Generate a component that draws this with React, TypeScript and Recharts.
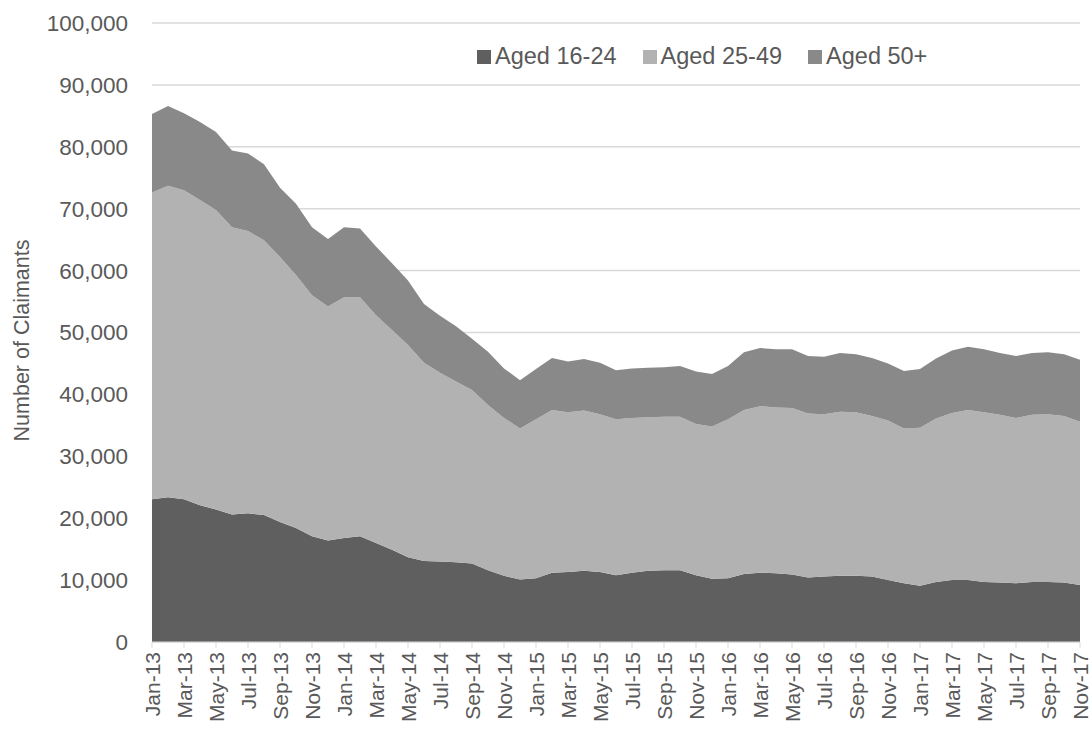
import { Area, AreaChart, CartesianGrid, XAxis, YAxis } from "recharts"

const months = [
  "Jan-13", "Feb-13", "Mar-13", "Apr-13", "May-13", "Jun-13", "Jul-13", "Aug-13", "Sep-13", "Oct-13", "Nov-13", "Dec-13",
  "Jan-14", "Feb-14", "Mar-14", "Apr-14", "May-14", "Jun-14", "Jul-14", "Aug-14", "Sep-14", "Oct-14", "Nov-14", "Dec-14",
  "Jan-15", "Feb-15", "Mar-15", "Apr-15", "May-15", "Jun-15", "Jul-15", "Aug-15", "Sep-15", "Oct-15", "Nov-15", "Dec-15",
  "Jan-16", "Feb-16", "Mar-16", "Apr-16", "May-16", "Jun-16", "Jul-16", "Aug-16", "Sep-16", "Oct-16", "Nov-16", "Dec-16",
  "Jan-17", "Feb-17", "Mar-17", "Apr-17", "May-17", "Jun-17", "Jul-17", "Aug-17", "Sep-17", "Oct-17", "Nov-17",
]

const aged16to24 = [
  23050, 23400, 23050, 22100, 21400, 20600, 20800, 20500, 19400, 18400, 17100, 16400,
  16800, 17100, 16000, 14900, 13700, 13100, 13000, 12900, 12700, 11600, 10700, 10100,
  10300, 11200, 11300, 11500, 11300, 10800, 11200, 11500, 11600, 11600, 10800, 10200,
  10300, 11000, 11200, 11100, 10900, 10400, 10600, 10700, 10700, 10600, 10000, 9500,
  9100, 9700, 10000, 10000, 9700, 9600, 9500, 9700, 9700, 9600, 9200,
]

const aged25to49 = [
  49550, 50300, 49950, 49300, 48400, 46400, 45600, 44400, 42800, 40900, 38900, 37800,
  38900, 38600, 36800, 35500, 34300, 32000, 30500, 29200, 28000, 26700, 25500, 24400,
  25700, 26300, 25800, 25900, 25500, 25200, 25000, 24800, 24800, 24800, 24400, 24600,
  25700, 26500, 26900, 26800, 26900, 26500, 26200, 26500, 26400, 25900, 25800, 25000,
  25500, 26400, 27000, 27500, 27400, 27100, 26700, 27000, 27100, 26900, 26400,
]

const aged50plus = [
  12700, 12900, 12400, 12600, 12600, 12400, 12500, 12300, 11200, 11500, 11000, 10900,
  11300, 11100, 11100, 10800, 10400, 9500, 9200, 8900, 8300, 8600, 8000, 7800,
  8100, 8400, 8200, 8300, 8300, 7900, 8000, 8000, 8000, 8200, 8500, 8500,
  8600, 9300, 9400, 9400, 9500, 9300, 9300, 9500, 9400, 9400, 9200, 9300,
  9500, 9700, 10100, 10200, 10200, 10000, 10000, 10000, 10000, 10000, 10000,
]

const yTicks = [0, 10000, 20000, 30000, 40000, 50000, 60000, 70000, 80000, 90000, 100000]

const series = [
  { key: "a1624", name: "Aged 16-24", color: "#5f5f5f" },
  { key: "a2549", name: "Aged 25-49", color: "#b2b2b2" },
  { key: "a50", name: "Aged 50+", color: "#898989" },
]

const data = months.map((m, i) => ({
  month: m,
  a1624: aged16to24[i],
  a2549: aged25to49[i],
  a50: aged50plus[i],
}))

const FONT = "'Liberation Sans', Arial, sans-serif"
const TEXT = "#595959"

const XTick = ({ x, y, payload }: any) => (
  <text
    transform={`translate(${x},${y}) rotate(-90)`}
    x={-2}
    y={0}
    textAnchor="end"
    dominantBaseline="central"
    fontSize={21}
    fill={TEXT}
    fontFamily={FONT}
  >
    {payload.value}
  </text>
)

// legend sits inside the plot area, so it is drawn as an overlay
function ChartLegend() {
  return (
    <div
      style={{
        position: "absolute",
        left: 477,
        top: 43,
        display: "flex",
        fontFamily: FONT,
        fontSize: 23.5,
        color: TEXT,
        whiteSpace: "nowrap",
      }}
    >
      {series.map((s) => (
        <div
          key={s.key}
          style={{ display: "flex", alignItems: "center", marginRight: 26 }}
        >
          <span
            style={{
              width: 14,
              height: 14,
              background: s.color,
              display: "inline-block",
              marginRight: 4,
            }}
          />
          {s.name}
        </div>
      ))}
    </div>
  )
}

export default function App() {
  return (
    <div style={{ position: "absolute", left: 0, top: 0, background: "#fff" }}>
      <AreaChart
        width={1091}
        height={734}
        data={data}
        margin={{ top: 23, right: 11, left: 0, bottom: 0 }}
      >
        <CartesianGrid vertical={false} stroke="#d9d9d9" strokeWidth={1.5} />
        <XAxis
          dataKey="month"
          interval={1}
          height={92}
          tickSize={6}
          tickLine={{ stroke: "#d9d9d9" }}
          axisLine={{ stroke: "#d9d9d9" }}
          tick={<XTick />}
        />
        <YAxis
          width={152}
          domain={[0, 100000]}
          ticks={yTicks}
          axisLine={false}
          tickLine={false}
          tickSize={0}
          tickMargin={24}
          tick={{ fontSize: 22.5, fill: TEXT, fontFamily: FONT }}
          tickFormatter={(v: number) => v.toLocaleString("en-US")}
          label={({ viewBox }: any) => {
            const cx = 22
            const cy = viewBox.y + viewBox.height / 2 + 8
            return (
              <text
                x={cx}
                y={cy}
                transform={`rotate(-90, ${cx}, ${cy})`}
                textAnchor="middle"
                dominantBaseline="central"
                fontSize={21.5}
                fill={TEXT}
                fontFamily={FONT}
              >
                Number of Claimants
              </text>
            )
          }}
        />
        {series.map((s) => (
          <Area
            key={s.key}
            type="linear"
            dataKey={s.key}
            name={s.name}
            stackId="1"
            stroke="none"
            fill={s.color}
            fillOpacity={1}
            isAnimationActive={false}
          />
        ))}
      </AreaChart>
      <ChartLegend />
    </div>
  )
}
